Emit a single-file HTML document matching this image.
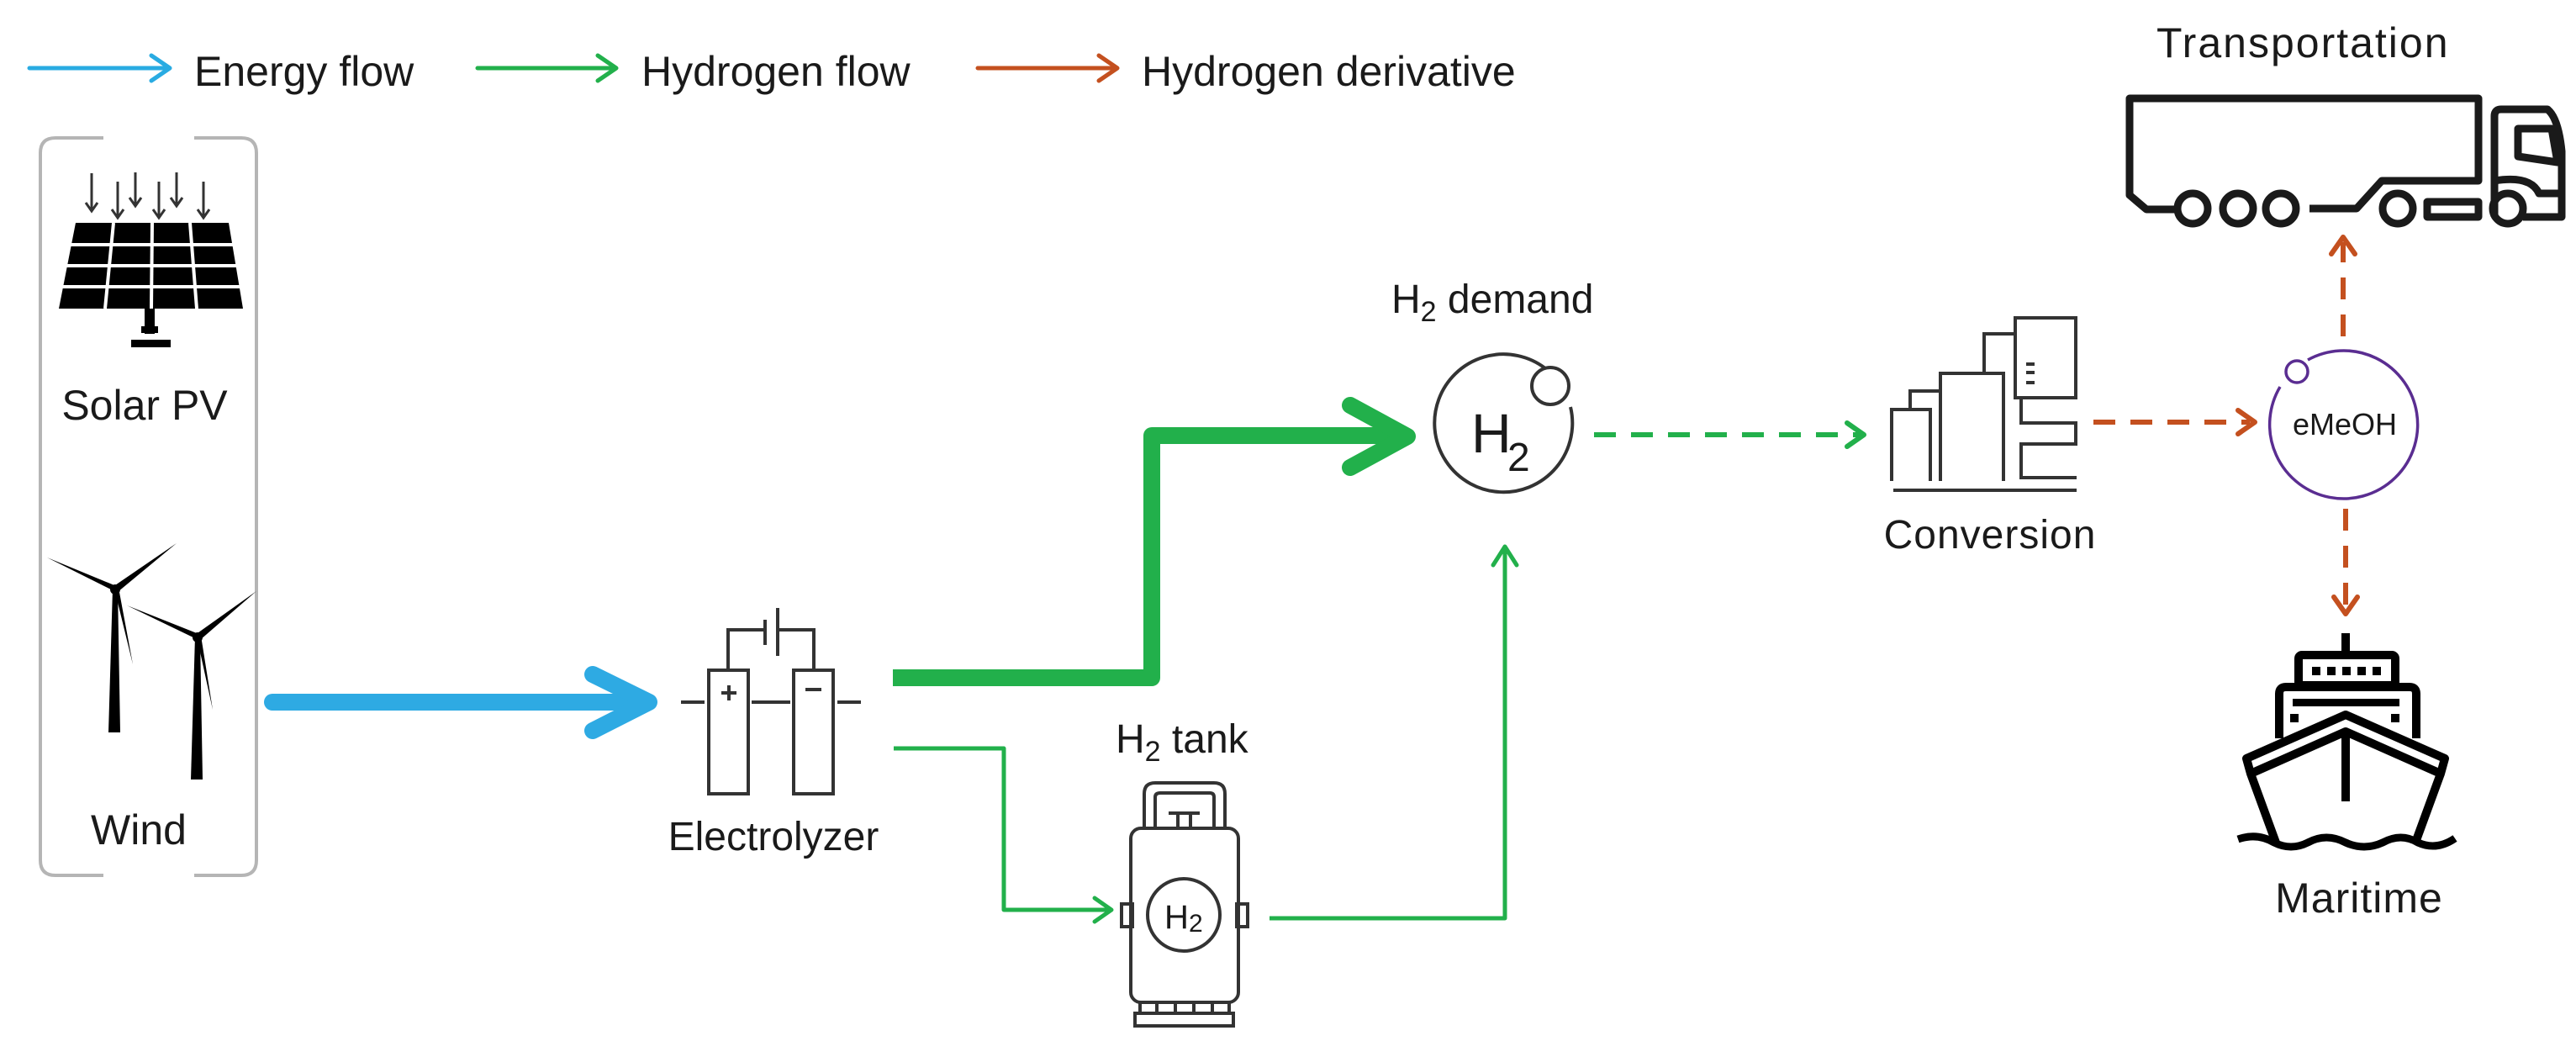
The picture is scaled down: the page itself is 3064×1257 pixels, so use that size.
<!DOCTYPE html>
<html><head><meta charset="utf-8"><style>
html,body{margin:0;padding:0;background:#fff;}
svg{display:block;}
text{font-family:"Liberation Sans",sans-serif;fill:#1a1a1a;}
</style></head><body>
<svg width="3064" height="1257" viewBox="0 0 3064 1257" xmlns="http://www.w3.org/2000/svg">
<!-- Legend -->
<g fill="none" stroke-linecap="round" stroke-linejoin="round">
<path d="M35 81 H200 M180 66 L202 81 L180 96" stroke="#29abe2" stroke-width="5"/>
<path d="M568 81 H731 M711 66 L733 81 L711 96" stroke="#22b04b" stroke-width="5"/>
<path d="M1163 81 H1327 M1307 66 L1329 81 L1307 96" stroke="#c4501f" stroke-width="5"/>
</g>
<text x="231" y="102" font-size="50">Energy flow</text>
<text x="763" y="102" font-size="50">Hydrogen flow</text>
<text x="1358" y="102" font-size="50">Hydrogen derivative</text>

<!-- Bracket box -->
<path d="M123 164 H66 Q48 164 48 182 V1023 Q48 1041 66 1041 H123 M231 164 H287 Q305 164 305 182 V1023 Q305 1041 287 1041 H231" fill="none" stroke="#b5b5b5" stroke-width="4"/>

<!-- Solar arrows -->
<g stroke="#333" stroke-width="3" fill="none">
<path d="M109 206 V250 M102 241 L109 251 L116 241"/>
<path d="M140 216 V258 M133 249 L140 259 L147 249"/>
<path d="M161 205 V244 M154 235 L161 245 L168 235"/>
<path d="M189 216 V258 M182 249 L189 259 L196 249"/>
<path d="M210 205 V244 M203 235 L210 245 L217 235"/>
<path d="M242 216 V258 M235 249 L242 259 L249 249"/>
</g>
<!-- Solar panel -->
<polygon points="90,265 272,265 289,367 70,367" fill="#000"/>
<g stroke="#fff" stroke-width="4">
<line x1="135" y1="265" x2="125" y2="367"/>
<line x1="181" y1="265" x2="180" y2="367"/>
<line x1="226" y1="265" x2="234" y2="367"/>
<line x1="80" y1="291" x2="280" y2="291"/>
<line x1="78" y1="316" x2="283" y2="316"/>
<line x1="74" y1="341" x2="286" y2="341"/>
</g>
<rect x="172" y="367" width="12" height="30" fill="#000"/>
<rect x="168" y="388" width="20" height="8" fill="#000"/>
<rect x="156" y="404" width="47" height="9" fill="#000"/>
<text x="172" y="499" font-size="50" text-anchor="middle">Solar PV</text>

<!-- Wind turbines -->
<g fill="#000">
<polygon points="134,700 140,700 143,871 129,871"/>
<polygon points="136,696 56,663 138,704"/>
<polygon points="134,698 210,646 140,704"/>
<polygon points="136,700 158,790 141,699"/>
<circle cx="137" cy="701" r="6"/>
<polygon points="232,757 238,757 241,927 227,927"/>
<polygon points="234,753 151,720 236,761"/>
<polygon points="232,755 305,703 238,761"/>
<polygon points="234,757 253,844 239,756"/>
<circle cx="235" cy="758" r="6"/>
</g>
<text x="165" y="1004" font-size="50" text-anchor="middle">Wind</text>

<!-- Blue energy arrow -->
<g fill="none" stroke="#2eaae3" stroke-width="20" stroke-linecap="round" stroke-linejoin="round">
<path d="M324 835 H770"/>
<path d="M705 802 L772 835 L705 869"/>
</g>

<!-- Electrolyzer -->
<g fill="none" stroke="#333" stroke-width="4">
<rect x="843" y="797" width="47" height="147"/>
<rect x="944" y="797" width="47" height="147"/>
<path d="M866 797 V749 H910 M925 749 H968 V797"/>
<line x1="910" y1="737" x2="910" y2="767"/>
<line x1="925" y1="723" x2="925" y2="780"/>
<line x1="810" y1="835" x2="838" y2="835"/>
<line x1="894" y1="835" x2="940" y2="835"/>
<line x1="996" y1="835" x2="1024" y2="835"/>
<path d="M858 824 H876 M867 815 V833"/>
<path d="M958 820 H977"/>
</g>
<text x="920" y="1011" font-size="48" text-anchor="middle">Electrolyzer</text>

<!-- Thick green flow -->
<g fill="none" stroke="#22b04b" stroke-linecap="round" stroke-linejoin="round">
<path d="M1062 806 H1370 V518 H1670" stroke-width="20" stroke-linecap="butt"/>
<path d="M1606 482 L1674 519 L1606 556" stroke-width="20"/>
<!-- thin lower flow -->
<path d="M1063 890 H1194 V1082 H1320" stroke-width="5" stroke-linecap="butt"/>
<path d="M1302 1068 L1322 1082 L1302 1096" stroke-width="5"/>
<path d="M1510 1092 H1790 V652" stroke-width="5" stroke-linecap="butt"/>
<path d="M1776 672 L1790 650 L1804 672" stroke-width="5"/>
<!-- dashed -->
<path d="M1896 517 H2212" stroke-width="6" stroke-dasharray="26,18" stroke-linecap="butt"/>
<path d="M2197 503 L2217 517 L2197 531" stroke-width="6"/>
</g>

<!-- H2 demand -->
<text x="1655" y="372" font-size="48">H<tspan font-size="34" dy="10">2</tspan><tspan dy="-10"> demand</tspan></text>
<path d="M1838 438 A82 82 0 1 0 1868 484" fill="none" stroke="#333" stroke-width="4"/>
<circle cx="1844" cy="459" r="22" fill="none" stroke="#333" stroke-width="4"/>
<text x="1750" y="538" font-size="66" fill="#333" font-weight="300">H</text>
<text x="1793" y="560" font-size="48" fill="#333">2</text>

<!-- H2 tank -->
<text x="1327" y="895" font-size="48">H<tspan font-size="34" dy="10">2</tspan><tspan dy="-10"> tank</tspan></text>
<g fill="none" stroke="#333" stroke-width="4">
<path d="M1361 985 V944 Q1361 931 1374 931 H1444 Q1457 931 1457 944 V985"/>
<path d="M1374 985 V948 Q1374 943 1380 943 H1439 Q1444 943 1444 948 V985"/>
<path d="M1390 967 H1427 M1401 967 V985 M1416 967 V985"/>
<rect x="1345" y="985" width="128" height="207" rx="12"/>
<rect x="1334" y="1075" width="13" height="27"/>
<rect x="1471" y="1075" width="13" height="27"/>
<circle cx="1408" cy="1088" r="43"/>
<path d="M1356 1192 V1205 M1376 1192 V1205 M1398 1192 V1205 M1420 1192 V1205 M1442 1192 V1205 M1462 1192 V1205"/>
<rect x="1350" y="1205" width="117" height="15"/>
</g>
<text x="1385" y="1104" font-size="40" fill="#333">H</text>
<text x="1414" y="1108" font-size="30" fill="#333">2</text>

<!-- Conversion -->
<g fill="none" stroke="#333" stroke-width="4">
<path d="M2250 572 V487 H2296 V572"/>
<path d="M2272 487 V465 H2308"/>
<path d="M2308 572 V444 H2383 V572"/>
<path d="M2360 444 V397 H2397"/>
<rect x="2397" y="378" width="72" height="95"/>
<path d="M2410 433 H2420 M2410 443 H2420 M2410 455 H2420"/>
<path d="M2404 473 V503 H2469 V528 H2404 V568 H2470"/>
<line x1="2252" y1="583" x2="2470" y2="583"/>
</g>
<text x="2367" y="652" font-size="48" text-anchor="middle" letter-spacing="1">Conversion</text>

<!-- Orange dashed arrows -->
<g fill="none" stroke="#c4501f" stroke-width="6" stroke-linecap="butt" stroke-linejoin="round">
<path d="M2490 502 H2676" stroke-dasharray="26,18"/>
<path d="M2662 488 L2682 502 L2662 516" stroke-linecap="round"/>
<path d="M2787 400 V288" stroke-dasharray="26,18"/>
<path d="M2773 302 L2787 282 L2801 302" stroke-linecap="round"/>
<path d="M2790 605 V724" stroke-dasharray="26,18"/>
<path d="M2776 710 L2790 730 L2804 710" stroke-linecap="round"/>
</g>

<!-- eMeOH -->
<path d="M2745 428 A88 88 0 1 1 2712 460" fill="none" stroke="#5a2d91" stroke-width="3.5"/>
<circle cx="2732" cy="442" r="13" fill="none" stroke="#5a2d91" stroke-width="3.5"/>
<text x="2789" y="517" font-size="36" text-anchor="middle" fill="#333">eMeOH</text>

<!-- Transportation -->
<text x="2565" y="68" font-size="50" letter-spacing="2">Transportation</text>
<g fill="none" stroke="#1a1a1a" stroke-width="9" stroke-linejoin="round">
<path d="M2589 249 H2553 L2533 232 V117 H2948 V215 H2833 L2803 248 H2747"/>
<circle cx="2608" cy="248" r="18"/>
<circle cx="2662" cy="248" r="18"/>
<circle cx="2713" cy="248" r="18"/>
<circle cx="2852" cy="248" r="18"/>
<rect x="2887" y="240" width="61" height="18"/>
<circle cx="2983" cy="248" r="18"/>
<path d="M3001 258 H3047 V180 Q3043 140 3030 130 H2975 Q2967 130 2967 138 V258"/>
<path d="M2995 153 H3035 L3042 193 L2995 186 Z"/>
<path d="M2967 215 Q3010 208 3020 230 H3047"/>
</g>

<!-- Ship -->
<g fill="none" stroke="#000" stroke-width="10" stroke-linejoin="round">
<line x1="2790" y1="753" x2="2790" y2="777"/>
<rect x="2734" y="779" width="115" height="36" rx="4"/>
<path d="M2711 878 V825 Q2711 817 2719 817 H2866 Q2874 817 2874 825 V878"/>
<path d="M2672 902 L2790 850 L2908 902 L2903 920 L2790 870 L2677 920 Z"/>
<path d="M2677 920 L2707 1002 M2903 920 L2873 1002"/>
<line x1="2790" y1="870" x2="2790" y2="953"/>
<path d="M2662 998 Q2685 990 2705 1002 Q2725 1012 2745 1002 Q2767 990 2790 1002 Q2812 1012 2834 1002 Q2856 990 2876 1002 Q2898 1012 2920 997" stroke-width="9"/>
</g>
<g fill="#000">
<rect x="2727" y="831" width="127" height="9"/>
<rect x="2724" y="849" width="10" height="10"/>
<rect x="2844" y="849" width="10" height="10"/>
<rect x="2750" y="793" width="10" height="10"/>
<rect x="2768" y="793" width="10" height="10"/>
<rect x="2786" y="793" width="10" height="10"/>
<rect x="2804" y="793" width="10" height="10"/>
<rect x="2822" y="793" width="10" height="10"/>
</g>
<text x="2806" y="1085" font-size="50" text-anchor="middle" letter-spacing="1">Maritime</text>
</svg>
</body></html>
